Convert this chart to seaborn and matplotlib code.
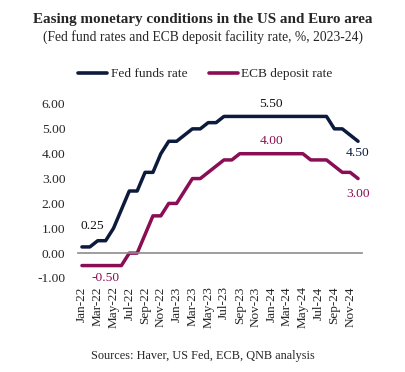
import numpy as np
import pandas as pd
import matplotlib
matplotlib.use("Agg")
import matplotlib.pyplot as plt
import seaborn as sns
from matplotlib.lines import Line2D

months = ["Jan-22","Feb-22","Mar-22","Apr-22","May-22","Jun-22","Jul-22","Aug-22","Sep-22","Oct-22","Nov-22","Dec-22",
          "Jan-23","Feb-23","Mar-23","Apr-23","May-23","Jun-23","Jul-23","Aug-23","Sep-23","Oct-23","Nov-23","Dec-23",
          "Jan-24","Feb-24","Mar-24","Apr-24","May-24","Jun-24","Jul-24","Aug-24","Sep-24","Oct-24","Nov-24","Dec-24"]
fed = [0.25,0.25,0.50,0.50,1.00,1.75,2.50,2.50,3.25,3.25,4.00,4.50,
       4.50,4.75,5.00,5.00,5.25,5.25,5.50,5.50,5.50,5.50,5.50,5.50,
       5.50,5.50,5.50,5.50,5.50,5.50,5.50,5.50,5.00,5.00,4.75,4.50]
ecb = [-0.50,-0.50,-0.50,-0.50,-0.50,-0.50,0.00,0.00,0.75,1.50,1.50,2.00,
       2.00,2.50,3.00,3.00,3.25,3.50,3.75,3.75,4.00,4.00,4.00,4.00,
       4.00,4.00,4.00,4.00,4.00,3.75,3.75,3.75,3.50,3.25,3.25,3.00]
series_names = ["Fed funds rate", "ECB deposit rate"]
yticks = [-1, 0, 1, 2, 3, 4, 5, 6]
# (series, month index, label, dx pt, dy pt)
labels = [(0, 1, "0.25", 2, 15), (1, 3, "-0.50", 0, -9), (0, 24, "5.50", 0, 9),
          (1, 24, "4.00", 0, 9), (0, 35, "4.50", 0, -8.5), (1, 35, "3.00", 0, -11)]

colors = ["#0C1A3C", "#8A0E55"]

sns.set_style("white")
plt.rcParams['font.family'] = ['Liberation Serif', 'DejaVu Serif']

df = pd.DataFrame({"idx": list(range(len(months))) * 2,
                   "value": fed + ecb,
                   "series": [series_names[0]] * len(months) + [series_names[1]] * len(months)})

fig = plt.figure(figsize=(4.06, 3.72), dpi=100)
ax = fig.add_axes([78/406, 1-278/372, (362-78)/406, (278-104)/372])
sns.lineplot(data=df, x="idx", y="value", hue="series", palette=colors, lw=2.5,
             ax=ax, legend=False)
ax.set_xlim(-0.5, len(months) - 0.5)
ax.set_ylim(-1, 6)
ax.set_xlabel(""); ax.set_ylabel("")
for s in ["top", "right", "left"]:
    ax.spines[s].set_visible(False)
ax.spines["bottom"].set_position(("data", 0))
ax.spines["bottom"].set_color("#8C8C8C")
ax.spines["bottom"].set_linewidth(1.2)

ax.set_yticks(yticks)
ax.set_yticklabels([f"{v:.2f}" for v in yticks], fontsize=9.7)
ax.tick_params(axis="y", length=0, pad=9)

ax.set_xticks(range(0, len(months), 2))
ax.set_xticklabels(months[::2], rotation=90, fontsize=9.5, va="top")
ax.set_xticks(np.arange(-0.5, len(months), 1), minor=True)
ax.tick_params(axis="x", which="major", length=0, pad=24)
ax.tick_params(axis="x", which="minor", length=3, width=1, color="#8C8C8C", direction="out")

data = [fed, ecb]
for s, i, txt, dx, dy in labels:
    ax.annotate(txt, xy=(i, data[s][i]), xytext=(dx, dy), textcoords="offset points",
                ha="center", va="center", fontsize=9.7,
                color=("#111111" if txt in ("0.25", "5.50") else colors[s]))

fig.text(0.5, 1-20/372, "Easing monetary conditions in the US and Euro area",
         ha="center", va="center", fontsize=10.9, fontweight="bold")
fig.text(0.5, 1-37/372, "(Fed fund rates and ECB deposit facility rate, %, 2023-24)",
         ha="center", va="center", fontsize=9.8)
fig.text(0.5, 1-356/372, "Sources: Haver, US Fed, ECB, QNB analysis",
         ha="center", va="center", fontsize=8.8)

handles = [Line2D([], [], color=c, lw=2.6) for c in colors]
fig.legend(handles, series_names, loc="center", bbox_to_anchor=(0.506, 1-74/372), ncol=2,
           frameon=False, fontsize=9.6, handlelength=2.2, handletextpad=0.25, columnspacing=1.6)

fig.savefig("out.png", dpi=100)
